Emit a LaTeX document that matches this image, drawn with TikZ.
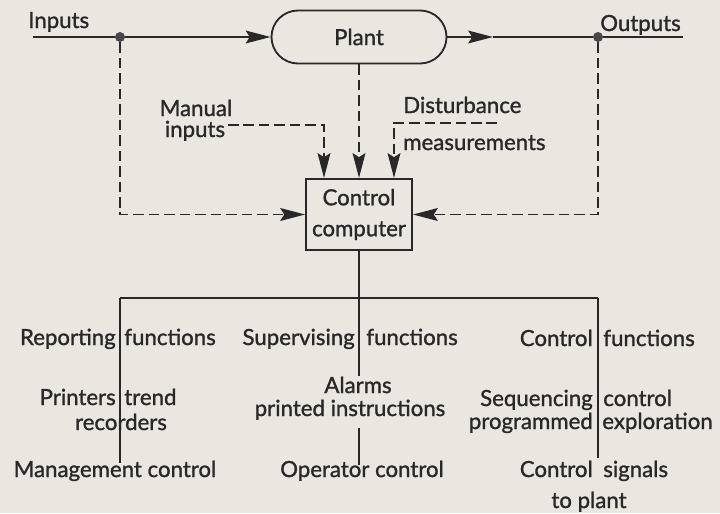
\documentclass[tikz,border=0pt]{standalone}
\usepackage{fontspec}
\setmainfont{Lato}[FakeBold=1.2]
\usetikzlibrary{arrows.meta,shapes.misc,calc}
\definecolor{paper}{RGB}{234,231,224}
\definecolor{ink}{RGB}{40,40,40}
\tikzset{
  wire/.style={draw=ink, line width=1.3pt},
  dashwire/.style={wire, dash pattern=on 7.5pt off 3.5pt},
  tip/.style={-{Stealth[length=0.62cm,width=0.32cm,inset=0.1cm]}},
  lbl/.style={text=ink, inner sep=0pt, font=\fontsize{15.8}{20}\selectfont},
  plantbox/.style={rounded rectangle, draw=ink, line width=1.3pt, inner sep=0pt,
    minimum width=4.375cm, minimum height=1.325cm, text=ink,
    font=\fontsize{15.8}{20}\selectfont},
  compbox/.style={rectangle, draw=ink, line width=1.3pt, inner sep=0pt,
    minimum width=2.65cm, minimum height=1.78cm, align=center, text=ink,
    font=\fontsize{15.8}{22}\selectfont},
  tap/.style={circle, fill=ink!85, inner sep=0pt, minimum size=0.25cm}
}
\begin{document}
\begin{tikzpicture}[x=0.025cm, y=-0.025cm]
  % Fond
  \fill[paper] (0,0) rectangle (720,513);
  \useasboundingbox (0,0) rectangle (720,513);
  % Blocs
  \node[plantbox] (plant) at (359,37) {Plant};
  \node[compbox] (comp) at (359,214.5) {Control\\computer};
  \node[tap] (inp) at (120,37) {};
  \node[tap] (outp) at (598,37) {};
  \coordinate (instart) at (33,37);
  \coordinate (outmid) at (493,37);
  \coordinate (outend) at (683,37);
  \coordinate (manend) at (228,125);
  \coordinate (distend) at (497,123);
  % Chaine directe
  \draw[wire, tip] (instart) -- (inp) -- (plant.west);
  \draw[wire, tip] (plant.east) -- (outmid);
  \draw[wire] (outmid) -- (outp) -- (outend);
  \node[lbl, anchor=base west] (inlbl) at (28,28) {Inputs};
  \node[lbl, anchor=base west] (outlbl) at (600,31) {Outputs};
  % Mesures vers le calculateur
  \draw[dashwire, tip] (inp) |- (comp.west);
  \draw[dashwire, tip] (outp) |- (comp.east);
  \draw[dashwire, tip] (plant.south) -- (comp.north);
  \draw[dashwire, tip] (manend) -| ($(comp.north)+(-35,0)$);
  \draw[dashwire, tip] (distend) -| ($(comp.north)+(35,0)$);
  \node[lbl, anchor=base] (man1) at (196,116) {Manual};
  \node[lbl, anchor=base] (man2) at (195,137) {inputs};
  \node[lbl, anchor=base west] (dist1) at (403,113) {Disturbance};
  \node[lbl, anchor=base west] (dist2) at (403,150) {measurements};
  % Sorties du calculateur
  \coordinate (busmid) at (359,298);
  \coordinate (busleft) at (120,298);
  \coordinate (busright) at (598,298);
  \draw[wire] (comp.south) -- (busmid);
  \draw[wire] (busleft) -- (busright);
  \draw[wire] (busleft) -- (120,463);
  \draw[wire] (busmid) -- (359,376);
  \draw[wire] (359,428) -- (359,465);
  \draw[wire] (busright) -- (598,458);
  % Fonctions de compte rendu
  \node[lbl, anchor=base east] (rep1) at (116,345) {Reporting};
  \node[lbl, anchor=base west] (rep2) at (124,345) {functions};
  \node[lbl, anchor=base east] (prn1) at (116,405) {Printers};
  \node[lbl, anchor=base west] (prn2) at (124,405) {trend};
  \node[lbl, anchor=base] (prn3) at (121,430) {recorders};
  \node[lbl, anchor=base] (mgmt) at (115,477) {Management control};
  % Fonctions de supervision
  \node[lbl, anchor=base east] (sup1) at (355,345) {Supervising};
  \node[lbl, anchor=base west] (sup2) at (366,345) {functions};
  \node[lbl, anchor=base] (alm1) at (358,393) {Alarms};
  \node[lbl, anchor=base] (alm2) at (350,416) {printed instructions};
  \node[lbl, anchor=base] (oper) at (362,477) {Operator control};
  % Fonctions de commande
  \node[lbl, anchor=base east] (ctl1) at (593,346) {Control};
  \node[lbl, anchor=base west] (ctl2) at (603,346) {functions};
  \node[lbl, anchor=base east] (seq1) at (593,406) {Sequencing};
  \node[lbl, anchor=base west] (seq2) at (603,406) {control};
  \node[lbl, anchor=base east] (prg1) at (593,429) {programmed};
  \node[lbl, anchor=base west] (prg2) at (602,429) {exploration};
  \node[lbl, anchor=base east] (sig1) at (593,477) {Control};
  \node[lbl, anchor=base west] (sig2) at (603,477) {signals};
  \node[lbl, anchor=base] (sig3) at (589,508) {to plant};
\end{tikzpicture}
\end{document}
